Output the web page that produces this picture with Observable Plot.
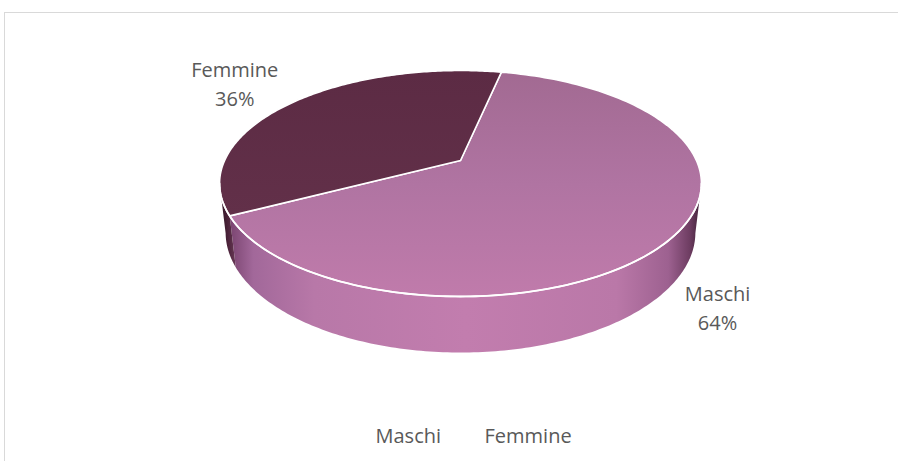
<!DOCTYPE html>
<html><head><meta charset="utf-8">
<script src="https://cdn.jsdelivr.net/npm/d3@7"></script>
<script src="https://cdn.jsdelivr.net/npm/@observablehq/plot@0.6"></script>
<style>
html,body{margin:0;padding:0;background:#fff;}
#wrap{position:relative;width:898px;height:461px;overflow:hidden;}
#chart{position:absolute;left:0;top:0;}
#frame{position:absolute;left:4px;top:12px;width:900px;height:460px;border-top:1.5px solid #d9d9d9;border-left:1.5px solid #d9d9d9;pointer-events:none;}
</style></head><body>
<div id="wrap"><div id="chart"></div><div id="frame"></div></div>
<script>
// ---- data ----
const categories = ["Maschi", "Femmine"];
const values = [64, 36];
const percentLabels = ["64%", "36%"];

// ---- layout / 3D projection ----
const W = 898, H = 461;
const cx = 460, cy = 160, f = 1029.7, D = 4.365, depth = 0.2356, startDeg = 12;
const phi = 27.33 * Math.PI / 180, sp = Math.sin(phi), cp = Math.cos(phi);
function proj(deg, r, hgt) {
  const t = deg * Math.PI / 180;
  const X = r * Math.sin(t), Z = r * Math.cos(t);
  const yc = hgt * cp + Z * sp, zc = D - hgt * sp + Z * cp;
  return [cx + f * X / zc, cy - f * yc / zc];
}
function arc(a0, a1, r, hgt, n = 160) {
  const pts = [];
  for (let k = 0; k <= n; k++) pts.push(proj(a0 + (a1 - a0) * k / n, r, hgt));
  return pts;
}
const thR = Math.acos(-cp / D) * 180 / Math.PI, thL = 360 - thR;
const total = d3.sum(values);
let acc = startDeg;
const slices = categories.map((name, i) => {
  const a0 = acc, a1 = acc + values[i] / total * 360; acc = a1;
  return {name, i, a0, a1, mid: (a0 + a1) / 2};
});
const toRows = (pts, key) => pts.map(([x, y]) => ({x, y, key}));

const topRows = slices.map(s => toRows([proj(0, 0, 0), ...arc(s.a0, s.a1, 1, 0), proj(0, 0, 0)], s.name));
const wallRows = slices.map(s => {
  let segs = [];
  for (const off of [0, -360]) {
    const lo = Math.max(s.a0 + off, thR), hi = Math.min(s.a1 + off, thL);
    if (hi > lo) segs.push([lo, hi]);
  }
  return segs.map(([lo, hi]) => toRows([...arc(lo, hi, 1, 0), ...arc(lo, hi, 1, -depth).reverse()], s.name));
}).map(a => a.flat());
const rimRows = toRows(arc(thR, thL, 1, 0), "rim");

const labelRadius = [1.2, 1.41];
const labelRows = slices.map(s => {
  const hgt = Math.cos(s.mid * Math.PI / 180) < 0 ? -depth : 0;
  const [x, y] = proj(s.mid, labelRadius[s.i], hgt);
  return {x, y, text: s.name + "\n" + percentLabels[s.i]};
});
const legendX = 375, legendStep = 109, legendY = 442;
const legendRows = categories.map((n, i) => ({x: legendX + i * legendStep, y: legendY, text: n}));

const topFill = ["url(#topM)", "url(#topF)"];
const wallFill = ["url(#wallM)", "url(#wallF)"];

const chart = Plot.plot({
  width: W, height: H,
  margin: 0,
  x: {type: "linear", domain: [0, W], range: [0, W], axis: null},
  y: {type: "linear", domain: [0, H], range: [0, H], axis: null},
  style: {background: "transparent", fontFamily: "Open Sans"},
  marks: [
    ...wallRows.map((rows, i) => Plot.line(rows, {x: "x", y: "y", fill: wallFill[i], stroke: "none"})),
    ...topRows.map((rows, i) => Plot.line(rows, {x: "x", y: "y", fill: topFill[i], stroke: "white", strokeWidth: 1.6, strokeLinejoin: "round"})),
    Plot.line(rimRows, {x: "x", y: "y", stroke: "white", strokeWidth: 1.8}),
    Plot.text(labelRows, {x: "x", y: "y", text: "text", fontSize: 20, fill: "#595959", lineHeight: 1.45, textAnchor: "middle", lineAnchor: "middle", fontFamily: "Open Sans"}),
    Plot.text(legendRows, {x: "x", y: "y", text: "text", fontSize: 20, fill: "#595959", textAnchor: "start", lineAnchor: "bottom", fontFamily: "Open Sans"})
  ]
});

const defs = d3.select(chart).insert("defs", ":first-child");
function grad(id, vertical, stops) {
  const g = defs.append("linearGradient").attr("id", id)
    .attr("x1", 0).attr("y1", 0).attr("x2", vertical ? 0 : 1).attr("y2", vertical ? 1 : 0);
  stops.forEach(([o, col]) => g.append("stop").attr("offset", o).attr("stop-color", col));
}
grad("topM", true, [[0, "#a26a92"], [0.5, "#b074a2"], [1, "#c07bab"]]);
grad("topF", true, [[0, "#5c2b44"], [1, "#623049"]]);
grad("wallM", false, [[0, "#7a4470"], [0.05, "#a2689a"], [0.18, "#b878a8"], [0.5, "#c27dae"], [0.82, "#ba78a8"], [0.93, "#9d6190"], [0.975, "#6e3d62"], [1, "#3e2036"]]);
grad("wallF", false, [[0, "#2e1523"], [0.5, "#4a2239"], [1, "#6a3a58"]]);

document.getElementById("chart").appendChild(chart);
</script>
</body></html>
